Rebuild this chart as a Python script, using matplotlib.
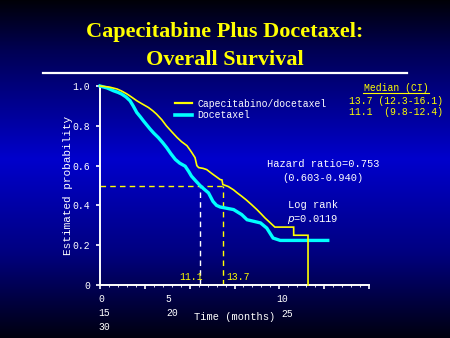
import numpy as np
import matplotlib.pyplot as plt
from matplotlib.colors import LinearSegmentedColormap
from matplotlib.lines import Line2D

# --- Kaplan-Meier curves (months, survival probability) ---
cape_t = [0.0, 1.0, 1.9, 2.4, 3.0, 3.5, 4.1, 4.7, 5.4, 5.9, 6.3, 6.9, 7.4, 8.0,
          8.6, 9.1, 9.7, 10.2, 10.6, 10.8, 11.0, 11.5, 11.9, 12.3, 12.6, 13.0,
          13.4, 13.6, 13.7, 14.3, 14.9, 15.3, 15.8, 16.3, 16.9, 17.5, 18.0,
          18.4, 19.0, 19.5, 21.6, 21.6, 23.2, 23.2]
cape_s = [1.000, 0.995, 0.985, 0.975, 0.960, 0.945, 0.926, 0.910, 0.892, 0.875,
          0.859, 0.830, 0.800, 0.770, 0.741, 0.720, 0.700, 0.668, 0.640, 0.600,
          0.590, 0.586, 0.580, 0.566, 0.556, 0.543, 0.530, 0.528, 0.505, 0.495,
          0.478, 0.463, 0.446, 0.428, 0.404, 0.379, 0.356, 0.337, 0.312, 0.291,
          0.291, 0.250, 0.250, 0.000]

doce_t = [0.0, 0.8, 1.5, 2.0, 2.4, 2.9, 3.35, 3.7, 4.1, 4.5, 4.84, 5.2, 5.6, 6.0,
          6.5, 7.0, 7.44, 7.9, 8.4, 8.9, 9.5, 9.9, 10.2, 10.7, 11.16, 11.6, 12.1,
          12.6, 13.0, 13.4, 14.2, 14.9, 15.4, 15.8, 16.4, 17.9, 18.6, 19.3, 20.1,
          25.4]
doce_s = [1.000, 0.990, 0.976, 0.968, 0.960, 0.945, 0.926, 0.900, 0.867, 0.845,
          0.825, 0.805, 0.783, 0.763, 0.741, 0.715, 0.690, 0.660, 0.631, 0.612,
          0.597, 0.570, 0.547, 0.522, 0.500, 0.482, 0.463, 0.420, 0.400, 0.392,
          0.385, 0.379, 0.365, 0.354, 0.328, 0.312, 0.286, 0.236, 0.224, 0.224]

series_names = ["Capecitabino/docetaxel", "Docetaxel"]
series_colors = ["#ffff00", "#00ffff"]
medians = [13.7, 11.1]
median_ci = ["13.7 (12.3-16.1)", "11.1  (9.8-12.4)"]
median_level = 0.5

y_ticks = [0, 0.2, 0.4, 0.6, 0.8, 1.0]
y_ticklabels = ["0", "0.2", "0.4", "0.6", "0.8", "1.0"]
x_ticks = [0, 5, 10, 15, 20, 25, 30]
# the slide's x labels are scrambled into three rows
x_label_text = ["0", "5", "10", "15", "20", "25", "30"]

W, H = 450, 338
def fx(px):
    return px / W
def fy(py):
    return 1 - py / H

mono = "Liberation Mono"
white = "white"

fig = plt.figure(figsize=(4.5, 3.38), dpi=100)

# --- background gradient (black -> blue -> black) ---
bg = fig.add_axes([0, 0, 1, 1])
bg_cmap = LinearSegmentedColormap.from_list(
    "slide",
    [(0.0, (0, 0, 0.03)), (0.15, (0, 0, 0.33)), (0.47, (0, 0, 0.80)),
     (0.75, (0, 0, 0.50)), (1.0, (0, 0, 0.06))])
bg.imshow(np.linspace(0, 1, 256).reshape(-1, 1), aspect="auto", cmap=bg_cmap,
          extent=[0, 1, 0, 1], origin="upper")
bg.set_axis_off()

# --- title ---
fig.text(0.5, fy(32), "Capecitabine Plus Docetaxel:", ha="center", va="center",
         color="#ffff00", fontsize=16, fontweight="bold", family="Liberation Serif")
fig.text(0.5, fy(60), "Overall Survival", ha="center", va="center",
         color="#ffff00", fontsize=16, fontweight="bold", family="Liberation Serif")
fig.add_artist(Line2D([fx(43), fx(407)], [fy(73), fy(73)], color=white, lw=1.6))

# --- survival plot ---
ax = fig.add_axes([fx(100), fy(285), fx(369) - fx(100), fy(86) - fy(285)])
ax.set_facecolor("none")

ax.plot(doce_t, doce_s, color=series_colors[1], lw=2.4, clip_on=False,
        solid_joinstyle="miter", label=series_names[1], zorder=3)
ax.plot(cape_t, cape_s, color=series_colors[0], lw=1.2, clip_on=False,
        solid_joinstyle="miter", label=series_names[0], zorder=4)

# median guides
ax.plot([0, medians[0]], [median_level, median_level], color="#ffff00", lw=1,
        ls=(0, (4, 3)), zorder=2)
ax.plot([medians[0], medians[0]], [0, median_level], color="#ffff00", lw=1,
        ls=(0, (4, 3)), zorder=2)
ax.plot([medians[1], medians[1]], [0, median_level], color=white, lw=1,
        ls=(0, (4, 3)), zorder=2)
ax.text(medians[1] - 1.0, 0.015, f"{medians[1]}", color="#ffff00", fontsize=7,
        family=mono, ha="center", va="bottom")
ax.text(medians[0] + 1.7, 0.015, f"{medians[0]}", color="#ffff00", fontsize=7,
        family=mono, ha="center", va="bottom")

ax.set_xlim(0, 30)
ax.set_ylim(0, 1.0)
ax.set_xticks(x_ticks)
ax.set_xticklabels([])
ax.set_xticks(np.arange(0, 31, 1), minor=True)
ax.set_yticks(y_ticks)
ax.set_yticklabels(y_ticklabels, family=mono, fontsize=7, color=white)
ax.tick_params(axis="both", colors=white, width=1.2, length=3, direction="out")
ax.tick_params(axis="x", which="minor", colors=white, width=0.6, length=1.2)
ax.tick_params(axis="y", pad=4)
for side in ["top", "right"]:
    ax.spines[side].set_visible(False)
for side in ["left", "bottom"]:
    ax.spines[side].set_color(white)
    ax.spines[side].set_linewidth(1.4)

ax.set_ylabel("Estimated probability", family=mono, fontsize=8, color=white,
              labelpad=0)

# scrambled x tick labels as on the slide
x_label_pos = [(101, 299), (168, 299), (282, 299), (104, 313), (172, 313),
               (287, 314), (104, 327)]
for lab, (px, py) in zip(x_label_text, x_label_pos):
    fig.text(fx(px), fy(py), lab, family=mono, fontsize=7, color=white,
             ha="center", va="center")
fig.text(fx(235), fy(317), "Time (months)", family=mono, fontsize=7.5,
         color=white, ha="center", va="center")

# --- legend + medians ---
handles = [Line2D([], [], color=series_colors[0], lw=1.6),
           Line2D([], [], color=series_colors[1], lw=2.6)]
fig.legend(handles, series_names, loc="upper left",
           bbox_to_anchor=(fx(170), fy(94)), frameon=False,
           prop={"family": mono, "size": 7}, labelcolor=white,
           handlelength=1.8, handletextpad=0.5, labelspacing=0.15, borderpad=0)

fig.text(fx(396), fy(88), "Median (CI)", family=mono, fontsize=7,
         color="#ffff00", ha="center", va="center")
fig.add_artist(Line2D([fx(363), fx(429)], [fy(93), fy(93)], color="#ffff00",
                      lw=0.8))
for i, s in enumerate(median_ci):
    fig.text(fx(349), fy(101 + 11 * i), s, family=mono, fontsize=7,
             color="#ffff00", ha="left", va="center")

fig.text(fx(323), fy(164), "Hazard ratio=0.753", family=mono, fontsize=7.5,
         color=white, ha="center", va="center")
fig.text(fx(323), fy(178), "(0.603-0.940)", family=mono, fontsize=7.5,
         color=white, ha="center", va="center")
fig.text(fx(313), fy(205), "Log rank", family=mono, fontsize=7.5,
         color=white, ha="center", va="center")
fig.text(fx(313), fy(219), r"$\it{p}$=0.0119", family=mono, fontsize=7.5,
         color=white, ha="center", va="center")

fig.savefig("out.png", dpi=100)
